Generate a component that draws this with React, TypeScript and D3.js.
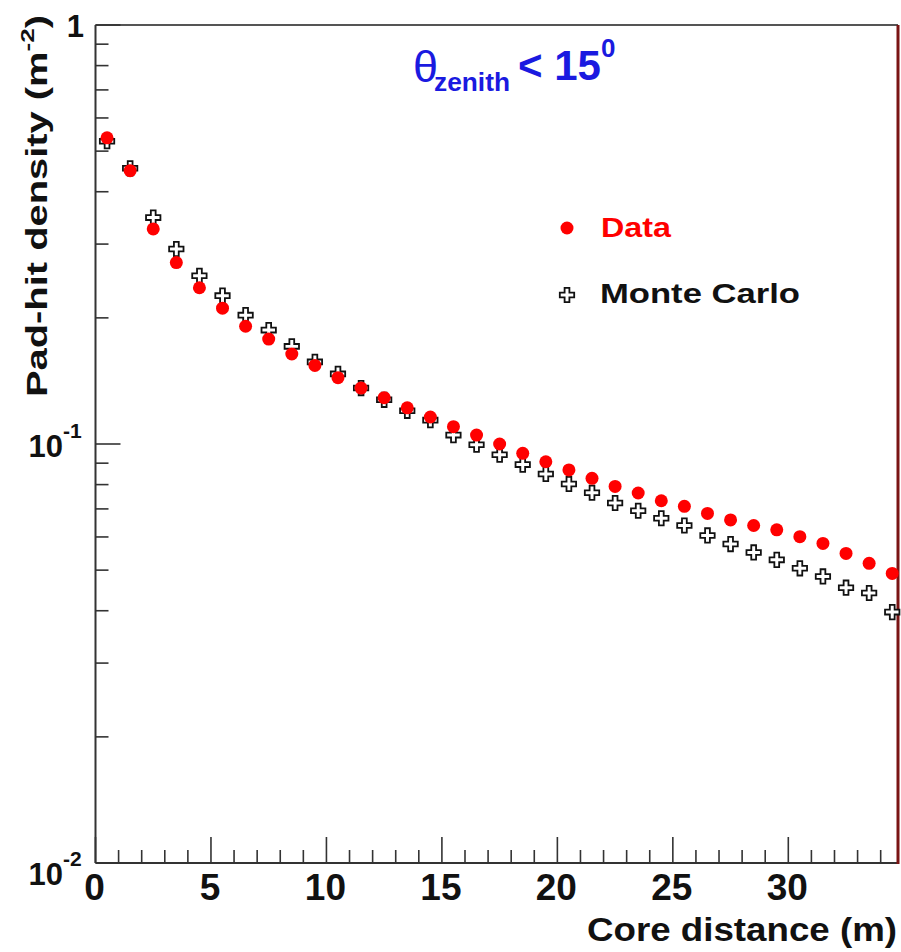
import React from "react";
import * as d3 from "d3";

// Core distance bin centres (m)
const coreDistance = [
  0.5, 1.5, 2.5, 3.5, 4.5, 5.5, 6.5, 7.5, 8.5, 9.5, 10.5, 11.5, 12.5, 13.5, 14.5,
  15.5, 16.5, 17.5, 18.5, 19.5, 20.5, 21.5, 22.5, 23.5, 24.5, 25.5, 26.5, 27.5,
  28.5, 29.5, 30.5, 31.5, 32.5, 33.5, 34.5,
];

// Measured pad-hit density (m^-2)
const dataDensity = [
  0.538, 0.449, 0.326, 0.271, 0.236, 0.211, 0.191, 0.178, 0.164, 0.154, 0.144,
  0.136, 0.129, 0.122, 0.116, 0.11, 0.105, 0.1, 0.095, 0.0907, 0.0867, 0.0828,
  0.0792, 0.0764, 0.0732, 0.071, 0.0683, 0.0659, 0.0639, 0.0624, 0.0601, 0.0579,
  0.0548, 0.0519, 0.0491,
];

// Simulated pad-hit density (m^-2)
const mcDensity = [
  0.528, 0.455, 0.347, 0.292, 0.252, 0.226, 0.203, 0.187, 0.171, 0.157, 0.147,
  0.136, 0.1275, 0.12, 0.114, 0.105, 0.0996, 0.0943, 0.0893, 0.0848, 0.0803,
  0.0765, 0.0723, 0.0693, 0.0665, 0.0639, 0.0605, 0.0577, 0.0551, 0.0529, 0.0505,
  0.0483, 0.0454, 0.0441, 0.0397,
];

const xMajorTicks = [0, 5, 10, 15, 20, 25, 30];
const yMajorTicks = [0.01, 0.1, 1];
const yTickBase = ["10", "10", "1"];
const yTickExp = ["-2", "-1", ""];

const W = 901;
const H = 952;
const left = 95.5;
const right = 898;
const top = 25;
const bottom = 863;

const FONT = "'Liberation Sans', Arial, Helvetica, sans-serif";
const RED = "#ff0000";
const BLUE = "#1a1ae0";
const AXIS = "#333333";

export default function App() {
  const x = d3.scaleLinear().domain([0, 34.75]).range([left, right]);
  const y = d3.scaleLog().domain([0.01, 1]).range([bottom, top]);

  const xMinor = d3.range(1, 35).filter((v) => v % 5 !== 0);
  const yMinor: number[] = [];
  [0.01, 0.1].forEach((dec) => {
    for (let k = 2; k <= 9; k++) yMinor.push(dec * k);
  });

  const cross = d3.symbol().type(d3.symbolCross).size(115)() as string;

  return (
    <svg
      width={W}
      height={H}
      style={{ position: "absolute", left: 0, top: 0, background: "#fff" }}
      fontFamily={FONT}
    >
      <rect x={0} y={0} width={W} height={H} fill="#fff" />

      {/* frame */}
      <line x1={left} x2={right} y1={top} y2={top} stroke="#555" strokeWidth={2} />
      <line x1={left} x2={left} y1={top} y2={bottom} stroke={AXIS} strokeWidth={2} />
      <line x1={left} x2={right} y1={bottom} y2={bottom} stroke={AXIS} strokeWidth={2} />
      <line x1={right} x2={right} y1={top} y2={bottom + 1} stroke="#7a1414" strokeWidth={3} />

      {/* x ticks */}
      {xMajorTicks.map((t) => (
        <line key={"xM" + t} x1={x(t)} x2={x(t)} y1={bottom} y2={bottom - 26} stroke={AXIS} strokeWidth={1.6} />
      ))}
      {xMinor.map((t) => (
        <line key={"xm" + t} x1={x(t)} x2={x(t)} y1={bottom} y2={bottom - 13} stroke={AXIS} strokeWidth={1.6} />
      ))}
      {xMajorTicks.map((t) => (
        <text key={"xl" + t} x={x(t) - 1} y={900} fontSize={37} fontWeight="bold" textAnchor="middle" fill="#111">
          {t}
        </text>
      ))}

      {/* y ticks */}
      {yMajorTicks.map((t) => (
        <line key={"yM" + t} x1={left} x2={left + 25} y1={y(t)} y2={y(t)} stroke={AXIS} strokeWidth={1.6} />
      ))}
      {yMinor.map((t) => (
        <line key={"ym" + t} x1={left} x2={left + 13} y1={y(t)} y2={y(t)} stroke={AXIS} strokeWidth={1.6} />
      ))}
      {yMajorTicks.map((t, i) => {
        const yy = y(t);
        const shift = i === 0 ? 22 : i === 1 ? 13 : 12;
        if (yTickExp[i] === "") {
          return (
            <text key={"yl" + t} x={84} y={yy + shift} fontSize={31} fontWeight="bold" textAnchor="end" fill="#111">
              {yTickBase[i]}
            </text>
          );
        }
        return (
          <g key={"yl" + t}>
            <text x={63} y={yy + shift} fontSize={31} fontWeight="bold" textAnchor="end" fill="#111">
              {yTickBase[i]}
            </text>
            <text x={63} y={yy + shift - 19} fontSize={21} fontWeight="bold" textAnchor="start" fill="#111">
              {yTickExp[i]}
            </text>
          </g>
        );
      })}

      {/* axis titles */}
      <text
        x={897}
        y={941}
        fontSize={33}
        fontWeight="bold"
        textAnchor="end"
        fill="#111"
        textLength={310}
        lengthAdjust="spacingAndGlyphs"
      >
        Core distance (m)
      </text>
      <g transform="translate(47,206) rotate(-90)">
        <text
          x={-191}
          y={0}
          fontSize={29}
          fontWeight="bold"
          fill="#111"
          textLength={382}
          lengthAdjust="spacingAndGlyphs"
        >
          Pad-hit density (m
          <tspan fontSize={19} dy={-13}>-2</tspan>
          <tspan dy={13}>)</tspan>
        </text>
      </g>

      {/* Monte Carlo markers */}
      {coreDistance.map((d, i) => (
        <path
          key={"mc" + i}
          d={cross}
          transform={`translate(${x(d)},${y(mcDensity[i])})`}
          fill="#fff"
          stroke="#111"
          strokeWidth={1.8}
        />
      ))}
      {/* Data markers */}
      {coreDistance.map((d, i) => (
        <circle key={"dt" + i} cx={x(d)} cy={y(dataDensity[i])} r={6.5} fill={RED} />
      ))}

      {/* legend */}
      <circle cx={567} cy={228} r={6.5} fill={RED} />
      <text x={601} y={237} fontSize={28} fontWeight="bold" fill={RED} textLength={70} lengthAdjust="spacingAndGlyphs">
        Data
      </text>
      <path d={cross} transform="translate(567,295)" fill="#fff" stroke="#111" strokeWidth={1.8} />
      <text x={600} y={303} fontSize={28} fontWeight="bold" fill="#111" textLength={200} lengthAdjust="spacingAndGlyphs">
        Monte Carlo
      </text>

      {/* cut label */}
      <text x={413} y={82} fontSize={45} fill={BLUE}>
        θ
      </text>
      <text x={434} y={91} fontSize={26} fontWeight="bold" fill={BLUE} textLength={76} lengthAdjust="spacingAndGlyphs">
        zenith
      </text>
      <text x={518} y={80} fontSize={42} fontWeight="bold" fill={BLUE}>
        {"< 15"}
      </text>
      <text x={601} y={57} fontSize={26} fontWeight="bold" fill={BLUE}>
        0
      </text>
    </svg>
  );
}
